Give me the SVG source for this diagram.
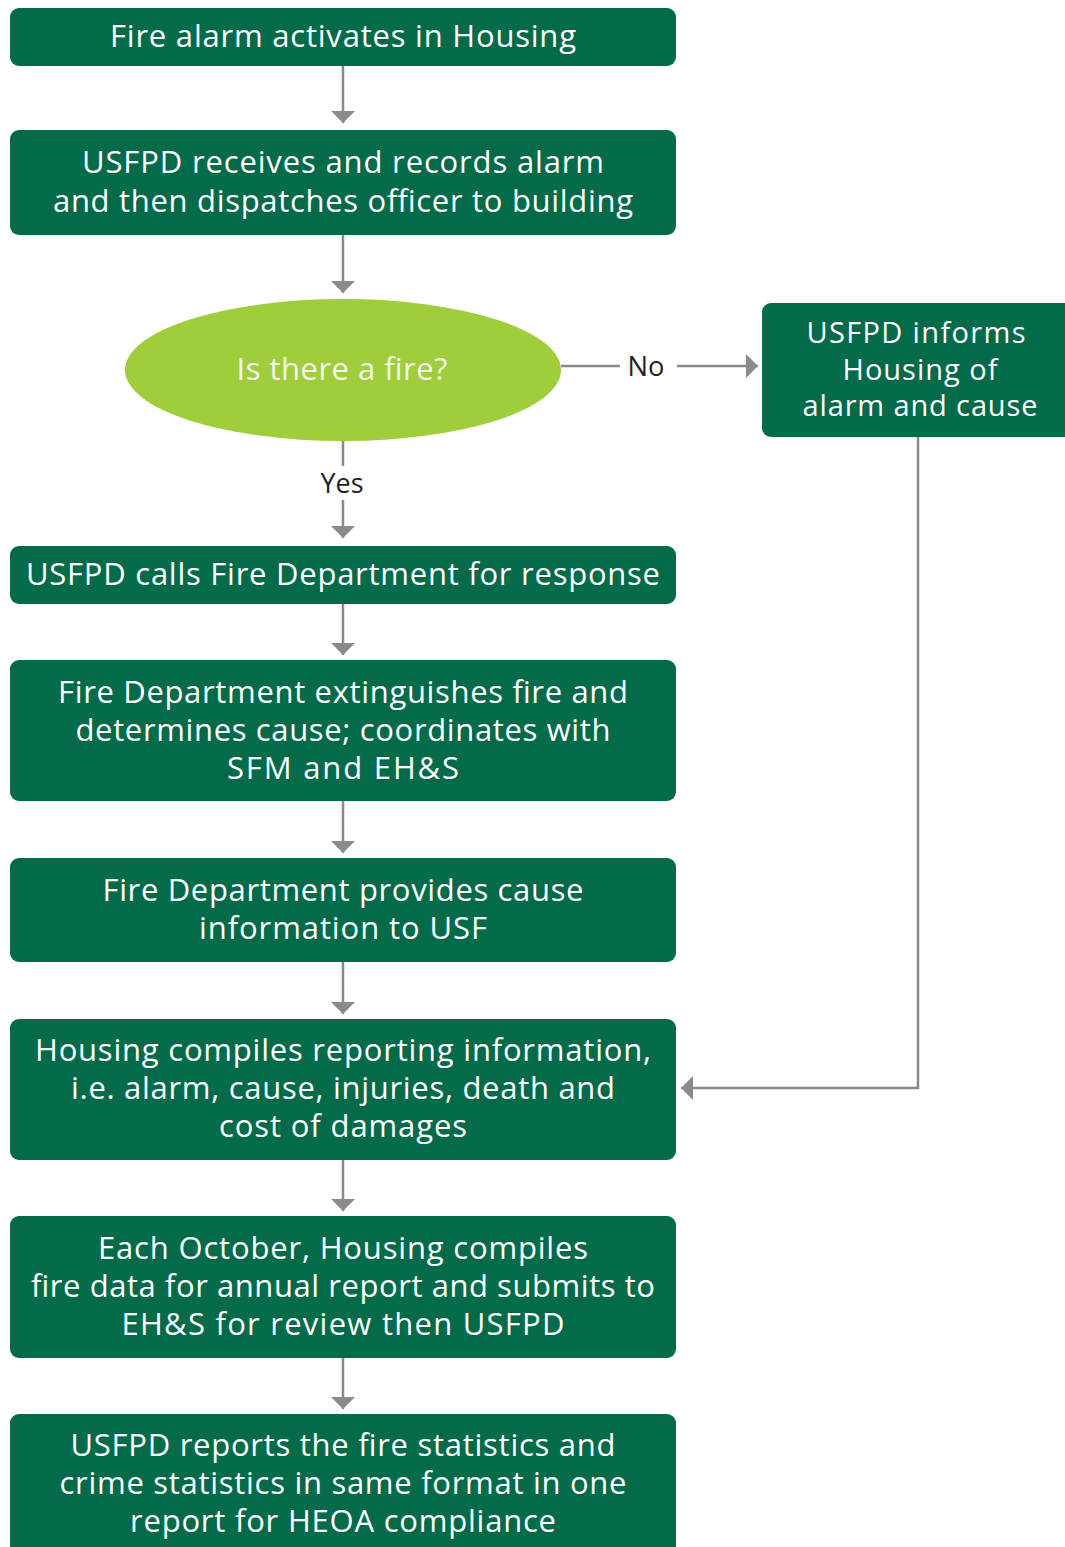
<svg xmlns="http://www.w3.org/2000/svg" width="1065" height="1547" viewBox="0 0 1065 1547">
<style>
.box{fill:#036a4a}
.t{font-family:"Open Sans","Liberation Sans",sans-serif;font-size:31px;fill:#ffffff;text-anchor:middle}
.s{font-size:29px}
.lbl{font-family:"Open Sans","Liberation Sans",sans-serif;font-size:28px;fill:#231f20;text-anchor:middle}
.ln{stroke:#8a8a8c;stroke-width:2.5;fill:none}
</style>
<defs>
<marker id="ah" viewBox="0 0 12 24" refX="12" refY="12" markerWidth="12" markerHeight="24" markerUnits="userSpaceOnUse" orient="auto">
<path d="M0,0 L12,12 L0,24 Z" fill="#8a8a8c"/>
</marker>
</defs>
<g id="connectors">
<line class="ln" x1="343" y1="66" x2="343" y2="123" marker-end="url(#ah)"/>
<line class="ln" x1="343" y1="235" x2="343" y2="293" marker-end="url(#ah)"/>
<line class="ln" x1="343" y1="441" x2="343" y2="466"/>
<line class="ln" x1="343" y1="500" x2="343" y2="538" marker-end="url(#ah)"/>
<line class="ln" x1="561" y1="366" x2="620" y2="366"/>
<line class="ln" x1="677" y1="366" x2="758" y2="366" marker-end="url(#ah)"/>
<polyline class="ln" points="918,437 918,1088 681,1088" marker-end="url(#ah)"/>
<line class="ln" x1="343" y1="604" x2="343" y2="655" marker-end="url(#ah)"/>
<line class="ln" x1="343" y1="801" x2="343" y2="853" marker-end="url(#ah)"/>
<line class="ln" x1="343" y1="962" x2="343" y2="1014" marker-end="url(#ah)"/>
<line class="ln" x1="343" y1="1160" x2="343" y2="1211" marker-end="url(#ah)"/>
<line class="ln" x1="343" y1="1358" x2="343" y2="1409" marker-end="url(#ah)"/>
<text class="lbl" x="646" y="376" textLength="37" lengthAdjust="spacingAndGlyphs">No</text>
<text class="lbl" x="342" y="493" textLength="43" lengthAdjust="spacingAndGlyphs">Yes</text>
</g>
<g id="n1">
<rect class="box" x="10" y="8" width="666" height="58" rx="9"/>
<text class="t" x="343" y="47" textLength="466" lengthAdjust="spacing">Fire alarm activates in Housing</text>
</g>
<g id="n2">
<rect class="box" x="10" y="130" width="666" height="105" rx="9"/>
<text class="t" x="343" y="173" textLength="522" lengthAdjust="spacing">USFPD receives and records alarm</text>
<text class="t" x="343" y="212" textLength="580" lengthAdjust="spacing">and then dispatches officer to building</text>
</g>
<g id="decision">
<ellipse cx="343" cy="370" rx="218" ry="71" fill="#9fcd3c"/>
<text class="t" x="342" y="380" textLength="211" lengthAdjust="spacing" style="fill:#f4f9e8">Is there a fire?</text>
</g>
<g id="n_no">
<rect class="box" x="762" y="303" width="320" height="134" rx="9"/>
<text class="t s" x="916" y="343" textLength="219" lengthAdjust="spacing">USFPD informs</text>
<text class="t s" x="920" y="380" textLength="155" lengthAdjust="spacing">Housing of</text>
<text class="t s" x="920" y="416" textLength="235" lengthAdjust="spacing">alarm and cause</text>
</g>
<g id="n3">
<rect class="box" x="10" y="546" width="666" height="58" rx="9"/>
<text class="t" x="343" y="585" textLength="634" lengthAdjust="spacing">USFPD calls Fire Department for response</text>
</g>
<g id="n4">
<rect class="box" x="10" y="660" width="666" height="141" rx="9"/>
<text class="t" x="343" y="703" textLength="570" lengthAdjust="spacing">Fire Department extinguishes fire and</text>
<text class="t" x="343" y="741" textLength="535" lengthAdjust="spacing">determines cause; coordinates with</text>
<text class="t" x="343" y="779" textLength="232" lengthAdjust="spacing">SFM and EH&amp;S</text>
</g>
<g id="n5">
<rect class="box" x="10" y="858" width="666" height="104" rx="9"/>
<text class="t" x="343" y="901" textLength="481" lengthAdjust="spacing">Fire Department provides cause</text>
<text class="t" x="343" y="939" textLength="288" lengthAdjust="spacing">information to USF</text>
</g>
<g id="n6">
<rect class="box" x="10" y="1019" width="666" height="141" rx="9"/>
<text class="t" x="343" y="1061" textLength="616" lengthAdjust="spacing">Housing compiles reporting information,</text>
<text class="t" x="343" y="1099" textLength="544" lengthAdjust="spacing">i.e. alarm, cause, injuries, death and</text>
<text class="t" x="343" y="1137" textLength="248" lengthAdjust="spacing">cost of damages</text>
</g>
<g id="n7">
<rect class="box" x="10" y="1216" width="666" height="142" rx="9"/>
<text class="t" x="343" y="1259" textLength="490" lengthAdjust="spacing">Each October, Housing compiles</text>
<text class="t" x="343" y="1297" textLength="624" lengthAdjust="spacing">fire data for annual report and submits to</text>
<text class="t" x="343" y="1335" textLength="443" lengthAdjust="spacing">EH&amp;S for review then USFPD</text>
</g>
<g id="n8">
<rect class="box" x="10" y="1414" width="666" height="150" rx="9"/>
<text class="t" x="343" y="1456" textLength="545" lengthAdjust="spacing">USFPD reports the fire statistics and</text>
<text class="t" x="343" y="1494" textLength="567" lengthAdjust="spacing">crime statistics in same format in one</text>
<text class="t" x="343" y="1532" textLength="426" lengthAdjust="spacing">report for HEOA compliance</text>
</g>
</svg>
